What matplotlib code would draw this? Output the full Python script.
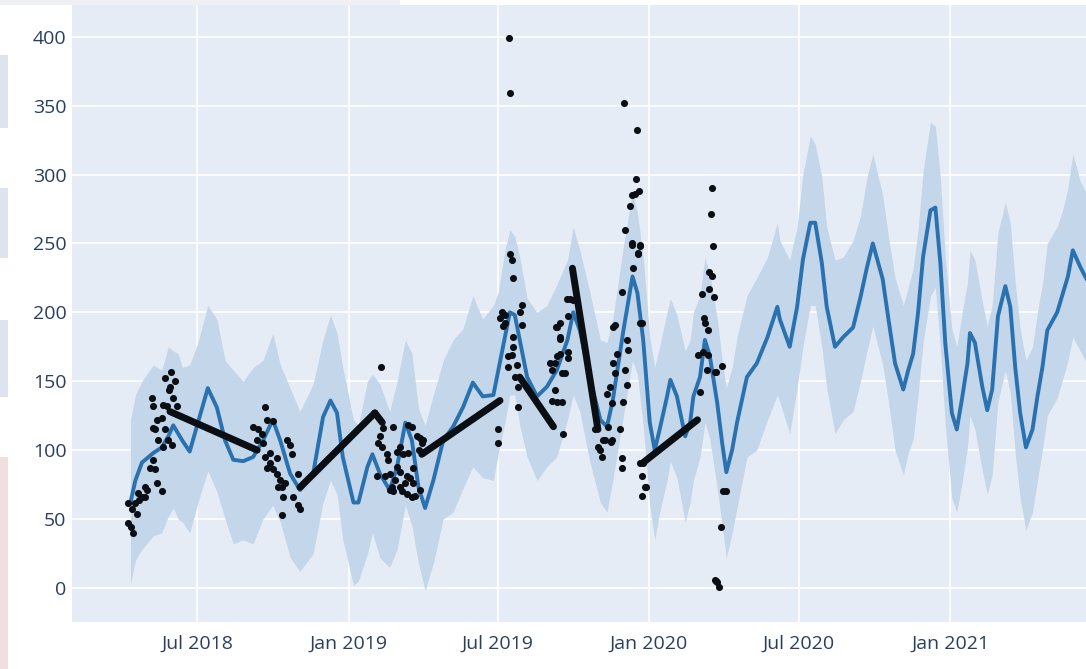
import pandas as pd
import matplotlib
matplotlib.use("Agg")
import matplotlib.pyplot as plt
import matplotlib.dates as mdates
from matplotlib.patches import Rectangle

# all days are counted from 2018-07-01
ORIGIN = pd.Timestamp("2018-07-01")

# forecast (yhat) with its uncertainty band
fc_days = [-81, -75, -67, -53, -43, -35, -29, -23, -18, -9, 1, 13, 24, 34, 44, 56, 68, 80, 92, 101,
           113, 125, 141, 153, 162, 170, 177, 190, 196, 207, 213, 222, 234, 243, 253, 261, 269, 277, 287, 299,
           311, 323, 335, 347, 360, 366, 374, 380, 386, 392, 401, 413, 425, 437, 450, 457, 465, 477, 490, 498,
           505, 518, 529, 535, 542, 550, 556, 562, 571, 575, 583, 593, 599, 603, 611, 617, 623, 632, 638, 643,
           650, 656, 668, 680, 693, 705, 708, 720, 729, 736, 745, 751, 759, 765, 775, 785, 797, 806, 814, 821,
           833, 840, 848, 858, 864, 870, 876, 882, 891, 897, 903, 909, 917, 923, 929, 936, 939, 945, 954, 960,
           966, 973, 982, 988, 994, 1000, 1007, 1015, 1021, 1027, 1033, 1045, 1052, 1058, 1064, 1073, 1079, 1085]
yhat = [62, 78, 91, 98, 102, 110, 118, 112, 107, 99, 120, 145, 131, 107, 93, 92, 95, 107, 122, 107,
        83, 71, 83, 124, 136, 127, 95, 62, 62, 88, 97, 83, 71, 88, 120, 107, 73, 58, 78, 107,
        117, 131, 149, 139, 140, 158, 182, 200, 198, 180, 153, 139, 146, 158, 180, 200, 187, 153, 122, 117,
        136, 187, 226, 214, 180, 120, 100, 115, 139, 151, 139, 110, 120, 139, 153, 180, 168, 134, 105, 84,
        100, 120, 153, 163, 182, 204, 195, 175, 204, 238, 265, 265, 236, 204, 175, 182, 189, 211, 233, 250,
        224, 195, 163, 144, 158, 170, 200, 240, 274, 276, 236, 178, 127, 115, 136, 163, 185, 178, 146, 129,
        144, 197, 219, 204, 160, 127, 102, 115, 139, 160, 187, 200, 214, 226, 245, 233, 226, 220]
yhat_upper = [122, 140, 150, 162, 158, 175, 172, 170, 160, 162, 178, 205, 195, 165, 158, 150, 160, 165, 185, 162,
              145, 128, 148, 180, 198, 185, 160, 122, 118, 150, 155, 148, 128, 150, 180, 170, 130, 118, 140, 165,
              180, 188, 212, 195, 205, 215, 245, 260, 255, 240, 210, 200, 205, 220, 238, 262, 245, 215, 180, 178,
              195, 248, 288, 272, 240, 182, 160, 175, 200, 210, 198, 172, 180, 200, 212, 240, 228, 195, 165, 145,
              160, 182, 212, 225, 240, 265, 252, 238, 262, 300, 328, 322, 298, 262, 238, 240, 252, 270, 298, 315,
              285, 255, 225, 205, 218, 232, 260, 302, 338, 335, 298, 240, 188, 175, 198, 222, 245, 238, 208, 190,
              205, 258, 280, 265, 222, 188, 165, 175, 200, 220, 250, 262, 275, 290, 315, 295, 288, 282]
yhat_lower = [3, 20, 28, 38, 40, 52, 58, 50, 48, 40, 62, 85, 70, 50, 32, 35, 32, 50, 60, 48,
              22, 12, 25, 62, 78, 68, 35, 2, 5, 25, 40, 22, 15, 28, 60, 45, 18, -2, 18, 50,
              55, 72, 88, 80, 78, 98, 120, 140, 140, 118, 95, 78, 88, 95, 122, 140, 128, 92, 62, 55,
              78, 125, 165, 155, 118, 60, 35, 55, 78, 92, 80, 48, 62, 78, 95, 120, 108, 72, 45, 22,
              40, 58, 95, 100, 122, 140, 135, 112, 145, 175, 205, 205, 175, 145, 112, 122, 128, 150, 172, 190,
              162, 135, 100, 82, 98, 108, 140, 178, 212, 218, 175, 118, 65, 55, 75, 102, 125, 115, 85, 68,
              82, 135, 158, 142, 98, 65, 42, 55, 78, 100, 125, 138, 152, 165, 182, 172, 165, 158]

# observed values (scattered days)
obs_days = [-84, -84, -80, -78, -79, -73, -75, -72, -67, -70, -63, -63, -61, -57, -51, -49, -43, -54, -55, -54,
            -54, -49, -47, -43, -41, -39, -41, -35, -30, -39, -32, -27, -34, -33, -29, -24, -36, -51,
            68, 83, 85, 74, 79, 92, 73, 80, 85, 83, 89, 92, 97, 89, 97, 101, 103, 98, 104, 103,
            109, 113, 115, 122, 117, 123, 125, 107,
            224, 226, 238, 222, 220, 225, 231, 232, 243, 247, 250, 243, 247, 234, 228, 219, 241, 237, 247, 255,
            253, 259, 262, 249, 255, 261, 265, 256, 261, 267, 271, 275, 256, 269, 273, 262, 271, 234, 238,
            366, 366, 371, 372, 368, 379, 380, 380, 383, 384, 374, 378, 383, 378, 384, 389, 392, 395, 395, 390,
            390, 384, 386, 374,
            429, 431, 435, 437, 441, 443, 431, 437, 443, 447, 435, 444, 441, 437, 441, 451, 451, 450, 453, 457,
            436, 441, 451,
            484, 487, 492, 490, 496, 499, 504, 498, 502, 505, 508, 510, 505, 508, 514, 516, 516, 517, 520, 522,
            522, 516, 520, 529, 538, 536, 530, 524, 541, 519, 535, 533, 529, 532, 537, 526, 529, 538, 536, 493,
            503, 504,
            542, 541, 544, 541, 538, 546, 538,
            626, 624, 627, 622, 626, 622, 628, 614, 616, 617, 621, 638, 609, 615, 621, 631, 611, 620, 629, 639,
            643, 637, 629, 631, 632, 634]
obs_vals = [62, 47, 44, 40, 57, 54, 62, 69, 66, 64, 66, 73, 71, 87, 86, 76, 70, 93, 138, 132,
            116, 122, 107, 123, 133, 115, 102, 107, 104, 152, 157, 150, 144, 146, 138, 132, 132, 115,
            117, 131, 122, 115, 112, 121, 107, 105, 87, 95, 91, 86, 83, 98, 94, 78, 73, 73, 66, 53,
            107, 104, 97, 83, 66, 60, 57, 76,
            160, 116, 117, 110, 105, 102, 97, 93, 99, 102, 97, 88, 84, 83, 81, 81, 78, 73, 73, 81,
            76, 80, 76, 70, 68, 66, 67, 118, 117, 110, 109, 107, 98, 100, 105, 87, 71, 71, 70,
            115, 105, 200, 190, 196, 399, 359, 242, 238, 225, 198, 160, 169, 168, 182, 162, 200, 205, 191, 146,
            131, 175, 153, 192,
            163, 158, 163, 168, 170, 156, 136, 135, 135, 156, 144, 112, 182, 189, 192, 171, 197, 210, 210, 209,
            189, 181, 167,
            115, 102, 95, 100, 107, 117, 107, 141, 146, 189, 191, 170, 163, 156, 115, 94, 87, 135, 158, 147,
            180, 215, 260, 249, 249, 243, 232, 173, 192, 352, 332, 297, 285, 286, 288, 277, 250, 248, 242, 107,
            106, 134,
            91, 81, 73, 67, 91, 73, 192,
            290, 271, 248, 229, 226, 217, 211, 213, 196, 192, 187, 161, 169, 171, 169, 157, 142, 158, 157, 70,
            70, 44, 6, 5, 4, 1]

# observed values that run as dense straight runs: (start day, start value, end day, end value)
runs = [(-33, 128, 73, 100),
        (125, 73, 216, 127),
        (216, 127, 225, 120),
        (273, 97, 368, 136),
        (392, 153, 433, 117),
        (456, 232, 487, 115),
        (542, 91, 608, 122)]

yticks = [0, 50, 100, 150, 200, 250, 300, 350, 400]
xtick_dates = ["2018-07-01", "2019-01-01", "2019-07-01", "2020-01-01", "2020-07-01", "2021-01-01"]


def to_dates(days):
    return ORIGIN + pd.to_timedelta(days, unit="D")


fig = plt.figure(figsize=(10.86, 6.69), dpi=100)
fig.patch.set_facecolor("white")

# faint screenshot strips on the left edge
W, H = 1086, 669
for y0, y1, col in [(55, 128, "#dde4ee"), (188, 258, "#dde4ee"), (320, 397, "#dde4ee"), (457, 669, "#f1dfdf")]:
    fig.patches.append(Rectangle((0, 1 - y1 / H), 8 / W, (y1 - y0) / H, transform=fig.transFigure,
                                 facecolor=col, edgecolor="none", zorder=0))
fig.patches.append(Rectangle((0, 1 - 5 / H), 400 / W, 5 / H, transform=fig.transFigure,
                             facecolor="#eef0f4", edgecolor="none", zorder=0))

ax = fig.add_axes([72 / W, 1 - 622 / H, 1 - 72 / W, 617 / H])
ax.set_facecolor("#E5ECF6")

fd = to_dates(fc_days)
ax.fill_between(fd, yhat_lower, yhat_upper, color="#c3d6ea", linewidth=0, zorder=2)
ax.plot(fd, yhat, color="#2a71b0", linewidth=2.8, zorder=3)

for d0, v0, d1, v1 in runs:
    ax.plot(to_dates([d0, d1]), [v0, v1], color="#0b0f14", linewidth=5, solid_capstyle="round", zorder=4)
ax.scatter(to_dates(obs_days), obs_vals, s=26, color="#0b0f14", linewidths=0, zorder=5)

ax.set_xlim(ORIGIN - pd.Timedelta(days=152), ORIGIN + pd.Timedelta(days=1080))
ax.set_ylim(-24.7, 423)
ax.set_yticks(yticks)
ax.set_xticks(pd.to_datetime(xtick_dates))
ax.xaxis.set_major_formatter(mdates.DateFormatter("%b %Y"))

ax.grid(True, color="white", linewidth=1.2)
ax.set_axisbelow(True)
for s in ax.spines.values():
    s.set_visible(False)
ax.tick_params(length=0, labelsize=14, labelcolor="#2a3f5f")
ax.tick_params(axis="x", pad=9)
ax.tick_params(axis="y", pad=4)
for lab in ax.get_xticklabels() + ax.get_yticklabels():
    lab.set_family("Open Sans")

fig.savefig("out.png", dpi=100)
